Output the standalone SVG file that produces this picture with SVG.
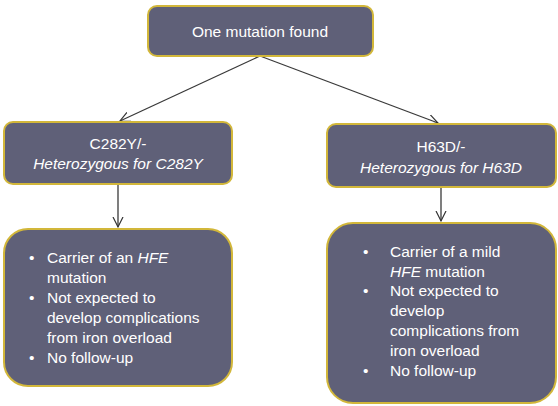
<svg xmlns="http://www.w3.org/2000/svg" width="558" height="406" viewBox="0 0 558 406">
<defs>
<marker id="arr" markerWidth="12" markerHeight="12" refX="10" refY="5" orient="auto" markerUnits="userSpaceOnUse" viewBox="0 0 12 10">
<path d="M0,0 L10,5 L0,10" fill="none" stroke="#333333" stroke-width="1.2"/>
</marker>
<style>
.box{fill:#5f6078;stroke:#d2b73a;stroke-width:2}
.t{font-family:"Liberation Sans",Arial,sans-serif;font-size:15.5px;fill:#ffffff}
.c{text-anchor:middle}
.i{font-style:italic}
.e{stroke:#3a3a3a;stroke-width:1.3;fill:none}
</style>
</defs>
<rect width="558" height="406" fill="#ffffff"/>
<g id="edges">
<line class="e" x1="260" y1="56" x2="120" y2="121" marker-end="url(#arr)"/>
<line class="e" x1="260" y1="56" x2="438" y2="123" marker-end="url(#arr)"/>
<line class="e" x1="118" y1="184" x2="118" y2="227" marker-end="url(#arr)"/>
<line class="e" x1="441" y1="187" x2="441" y2="221" marker-end="url(#arr)"/>
</g>
<g id="n_top">
<rect class="box" x="148" y="6" width="225" height="50" rx="9"/>
<text class="t c" x="260" y="37">One mutation found</text>
</g>
<g id="n_c282y">
<rect class="box" x="4" y="122" width="228" height="62" rx="9"/>
<text class="t c" x="118" y="149">C282Y/-</text>
<text class="t c i" x="118" y="169">Heterozygous for C282Y</text>
</g>
<g id="n_h63d">
<rect class="box" x="327" y="124" width="229" height="63" rx="9"/>
<text class="t c" x="441" y="152">H63D/-</text>
<text class="t c i" x="441" y="173">Heterozygous for H63D</text>
</g>
<g id="n_c282y_info">
<rect class="box" x="4" y="229" width="228" height="157" rx="24"/>
<text class="t" x="29" y="263">•</text>
<text class="t" x="47" y="263">Carrier of an <tspan class="i">HFE</tspan></text>
<text class="t" x="47" y="283">mutation</text>
<text class="t" x="29" y="303">•</text>
<text class="t" x="47" y="303">Not expected to</text>
<text class="t" x="47" y="323">develop complications</text>
<text class="t" x="47" y="343">from iron overload</text>
<text class="t" x="29" y="363">•</text>
<text class="t" x="47" y="363">No follow-up</text>
</g>
<g id="n_h63d_info">
<rect class="box" x="327" y="223" width="229" height="180" rx="26"/>
<text class="t" x="363" y="257">•</text>
<text class="t" x="390" y="257">Carrier of a mild</text>
<text class="t" x="390" y="277"><tspan class="i">HFE</tspan> mutation</text>
<text class="t" x="363" y="296">•</text>
<text class="t" x="390" y="296">Not expected to</text>
<text class="t" x="390" y="316">develop</text>
<text class="t" x="390" y="336">complications from</text>
<text class="t" x="390" y="356">iron overload</text>
<text class="t" x="363" y="376">•</text>
<text class="t" x="390" y="376">No follow-up</text>
</g>
</svg>
